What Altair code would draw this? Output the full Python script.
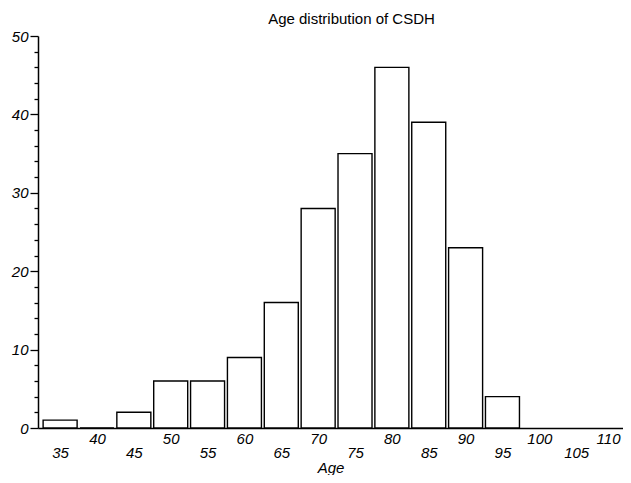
import altair as alt
import pandas as pd

ages = [35, 40, 45, 50, 55, 60, 65, 70, 75, 80, 85, 90, 95]
counts = [1, 0, 2, 6, 6, 9, 16, 28, 35, 46, 39, 23, 4]
x_ticks = list(range(35, 115, 5))
y_ticks = list(range(0, 52, 2))

df = pd.DataFrame({"age": ages, "count": counts})

FONT = "Liberation Sans"

chart = alt.Chart(df).mark_bar(
    size=34, fill="white", stroke="black", strokeWidth=1.4
).encode(
    x=alt.X(
        "age:Q",
        scale=alt.Scale(domain=[32, 111.35], nice=False, zero=False, padding=0),
        axis=alt.Axis(
            values=x_ticks,
            ticks=False,
            grid=False,
            labelOverlap=False,
            labelFlush=False,
            labelFont=FONT,
            labelFontSize=15,
            labelFontStyle="italic",
            labelColor="black",
            labelPadding={"condition": {"test": "datum.value % 10 != 0", "value": 17}, "value": 3},
            labelOffset={"condition": {"test": "datum.value >= 110", "value": -5}, "value": 0},
            domainColor="black",
            domainWidth=1.5,
            title="Age",
            titleFont=FONT,
            titleFontSize=15,
            titleFontStyle="italic",
            titleFontWeight="normal",
            titleColor="black",
            titleY=44,
            titleBaseline="alphabetic",
        ),
    ),
    y=alt.Y(
        "count:Q",
        scale=alt.Scale(domain=[0, 50], nice=False),
        axis=alt.Axis(
            values=y_ticks,
            grid=False,
            labelExpr="datum.value % 10 == 0 ? datum.label : ''",
            tickSize={"condition": {"test": "datum.value % 10 == 0", "value": 8}, "value": 4},
            tickColor="black",
            tickWidth=1.3,
            labelPadding=2,
            labelFont=FONT,
            labelFontSize=15,
            labelFontStyle="italic",
            labelColor="black",
            domainColor="black",
            domainWidth=1.5,
            title=None,
        ),
    ),
).properties(
    width=585,
    height=392,
    autosize=alt.AutoSizeParams(type="none"),
    padding={"left": 30, "top": 28, "right": 0, "bottom": 47},
    title=alt.TitleParams(
        "Age distribution of CSDH",
        font=FONT,
        fontSize=15,
        fontWeight="normal",
        color="black",
        anchor="middle",
        dx=21,
        offset=2,
    ),
).configure_view(stroke=None)

chart.save("out.html", embed_options={"renderer": "svg", "actions": False})
